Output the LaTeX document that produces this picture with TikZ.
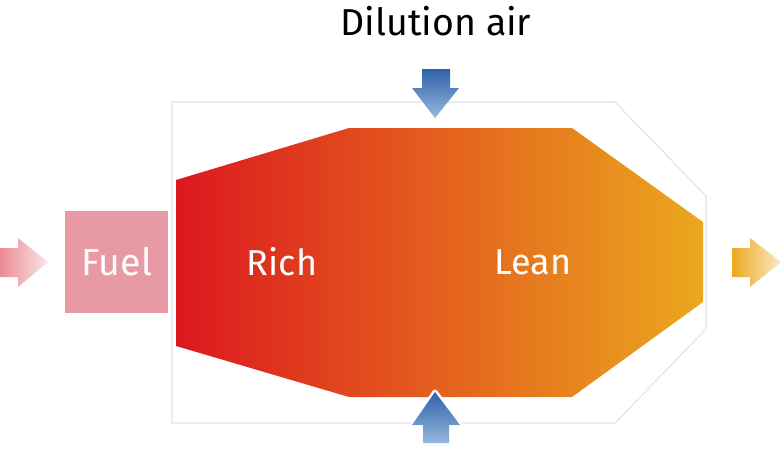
\documentclass[tikz,border=0pt]{standalone}
\usepackage{fontspec}
\setmainfont{Fira Sans}
\usepackage{tikz}
\usetikzlibrary{positioning}
\definecolor{FlameRed}{RGB}{220,24,30}
\definecolor{FlameMid}{RGB}{224,94,22}
\definecolor{FlameGold}{RGB}{235,168,30}
\definecolor{FuelPink}{RGB}{232,154,164}
\definecolor{AirDark}{RGB}{46,98,168}
\definecolor{AirLight}{RGB}{150,184,222}
\definecolor{LinerGray}{RGB}{228,228,230}

\begin{document}
\begin{tikzpicture}[
x=1pt,y=-1pt,
lbl/.style={font=\fontsize{36}{40}\selectfont,text=white,inner sep=0pt},
liner/.style={draw=LinerGray,line width=1.2pt},
airarrow/.style={top color=AirDark,bottom color=AirLight}
]
\useasboundingbox (0,0) rectangle (781,450);
% combustor liner
\draw[liner] (172,102) -- (615,102) -- (706,196) -- (706,329) -- (615,423) -- (172,423) -- cycle;
% flame zone
\shade[left color=FlameRed,middle color=FlameMid,right color=FlameGold]
  (176,180) -- (349,128) -- (572,128) -- (703,222) -- (703,302) -- (572,397) -- (349,397) -- (176,346) -- cycle;
% fuel box
\fill[FuelPink] (65,211) rectangle (168,313);
\node[lbl,font=\fontsize{37.5}{40}\selectfont] (fuel) at (117,262) {Fuel};
\node[lbl] (rich) at (282,262) {Rich};
\node[lbl] (lean) at (533,262) {Lean};
\node[font=\fontsize{37.5}{40}\selectfont,inner sep=0pt] (air) at (436,21) {Dilution air};
% inlet and outlet arrows
\shade[left color=FuelPink!90!red,right color=FuelPink!25]
  (0,248) -- (18,248) -- (18,238) -- (48,262) -- (18,287) -- (18,277) -- (0,277) -- cycle;
\shade[left color=FlameGold,right color=FlameGold!25]
  (732,248) -- (750,248) -- (750,238) -- (781,262) -- (750,287) -- (750,277) -- (732,277) -- cycle;
% dilution air arrows
\shade[airarrow]
  (422,69) -- (450,69) -- (450,88) -- (459,88) -- (435,118) -- (412,88) -- (422,88) -- cycle;
\filldraw[white,line width=5pt,line join=round]
  (435,392) -- (460,425) -- (412,425) -- cycle;
\shade[airarrow]
  (435,392) -- (460,425) -- (449,425) -- (449,443) -- (423,443) -- (423,425) -- (412,425) -- cycle;
\end{tikzpicture}
\end{document}
